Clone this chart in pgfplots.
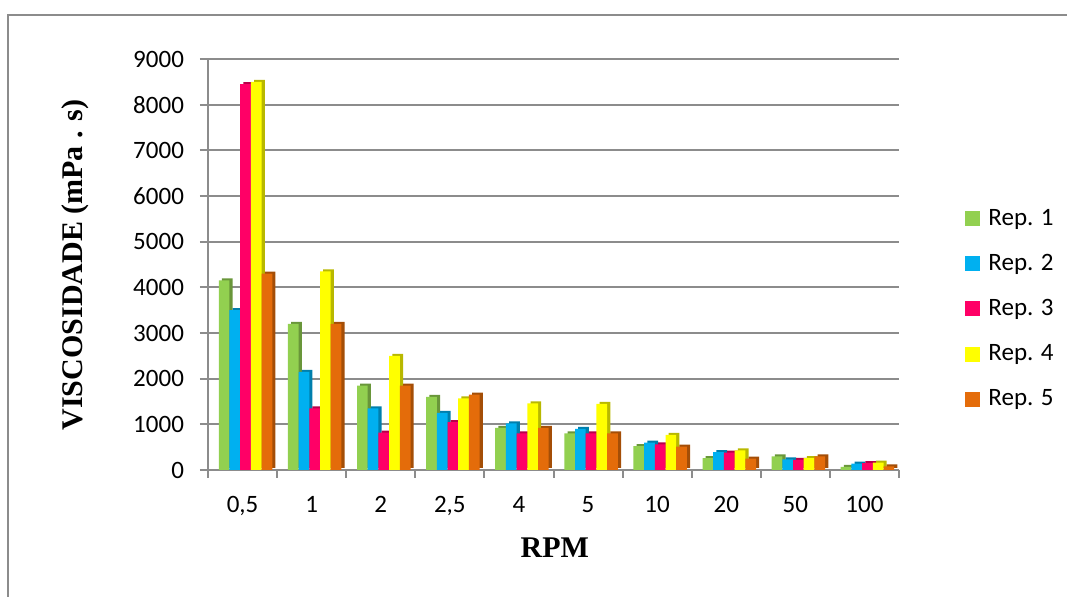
\documentclass[border=0pt]{standalone}
\usepackage{fontspec}
\setmainfont{Carlito}
\newfontfamily\tnr{Liberation Serif}
\usepackage{pgfplots}
\usepackage{pgfplotstable}
\pgfplotsset{compat=1.18}
\definecolor{cg}{HTML}{92D050}
\definecolor{cb}{HTML}{00B0F0}
\definecolor{cr}{HTML}{FF0066}
\definecolor{cy}{HTML}{FFFF00}
\definecolor{co}{HTML}{E46C0A}
\definecolor{gridgray}{HTML}{8C8C8C}
\pgfplotstableread{
x G B R Y O
0 4150 3500 8450 8500 4300
1 3200 2150 1350 4350 3200
2 1850 1350 820 2500 1850
3 1600 1250 1050 1570 1650
4 920 1020 800 1460 920
5 800 900 800 1450 800
6 520 600 560 770 510
7 260 390 380 430 250
8 300 230 220 260 300
9 70 140 150 160 80
}\datatable
\pgfplotsset{sq legend/.style={legend image code/.code={\fill[##1] (0pt,-3.75pt) rectangle (7.5pt,3.75pt);}}}
\begin{document}
\begin{tikzpicture}
\begin{axis}[
 scale only axis, width=345.5pt, height=205.5pt,
 xmin=-0.5, xmax=9.5, ymin=0, ymax=9000,
 ybar, bar width=5.35pt,
 xtick={0,...,9},
 xticklabels={{0,5},1,2,{2,5},4,5,10,20,50,100},
 major x tick style={draw=none},
 minor xtick={-0.5,0.5,...,9.5},
 ytick={0,1000,...,9000},
 tick align=outside, major tick length=4pt, minor tick length=4pt,
 ymajorgrids, grid style={line width=1pt, color=gridgray},
 axis x line*=bottom, axis y line*=left,
 axis line style={line width=1pt, gridgray, -},
 tick style={line width=1pt, gridgray},
 scaled y ticks=false,
 /pgf/number format/1000 sep={},
 /pgf/number format/assume math mode=true,
 ticklabel style={font=\fontsize{12.5}{15}\selectfont},
 yticklabel style={xshift=-4.5pt},
 xticklabel style={yshift=-5.5pt},
 xlabel={\tnr\bfseries RPM},
 xlabel style={font=\fontsize{15}{18}\selectfont, at={(axis description cs:0.502,-0.19)}, anchor=center},
 ylabel={\tnr\bfseries VISCOSIDADE (mPa . s)},
 ylabel style={font=\fontsize{15}{18}\selectfont, at={(axis description cs:-0.1925,0.499)}, anchor=center},
 legend style={at={(axis description cs:1.0955,0.392)}, anchor=west, draw=none, fill=none,
   font=\fontsize{12.5}{15}\selectfont, row sep=9pt, inner sep=0pt, column sep=2pt},
 legend cell align=left,
]
% side faces
\addplot[fill=cg!72!black, draw=none, bar shift=-7.6pt, yshift=1pt, forget plot] table[x=x,y=G]{\datatable};
\addplot[fill=cb!72!black, draw=none, bar shift=-2.25pt, yshift=1pt, forget plot] table[x=x,y=B]{\datatable};
\addplot[fill=cr!72!black, draw=none, bar shift=3.1pt, yshift=1pt, forget plot] table[x=x,y=R]{\datatable};
\addplot[fill=cy!72!black, draw=none, bar shift=8.45pt, yshift=1pt, forget plot] table[x=x,y=Y]{\datatable};
\addplot[fill=co!72!black, draw=none, bar shift=13.8pt, yshift=1pt, forget plot] table[x=x,y=O]{\datatable};
% front faces
\addplot[fill=cg, draw=none, bar shift=-9.2pt, sq legend] table[x=x,y=G]{\datatable};
\addplot[fill=cb, draw=none, bar shift=-3.85pt, sq legend] table[x=x,y=B]{\datatable};
\addplot[fill=cr, draw=none, bar shift=1.5pt, sq legend] table[x=x,y=R]{\datatable};
\addplot[fill=cy, draw=none, bar shift=6.85pt, sq legend] table[x=x,y=Y]{\datatable};
\addplot[fill=co, draw=none, bar shift=12.2pt, sq legend] table[x=x,y=O]{\datatable};
\legend{Rep. 1,Rep. 2,Rep. 3,Rep. 4,Rep. 5}
\end{axis}
\draw[gridgray, line width=1pt] (-99.75pt,-70pt) -- (-99.75pt,227.5pt) -- (440pt,227.5pt);
\pgfresetboundingbox
\useasboundingbox (-104pt,-63.5pt) rectangle (429.5pt,235pt);
\end{tikzpicture}
\end{document}
